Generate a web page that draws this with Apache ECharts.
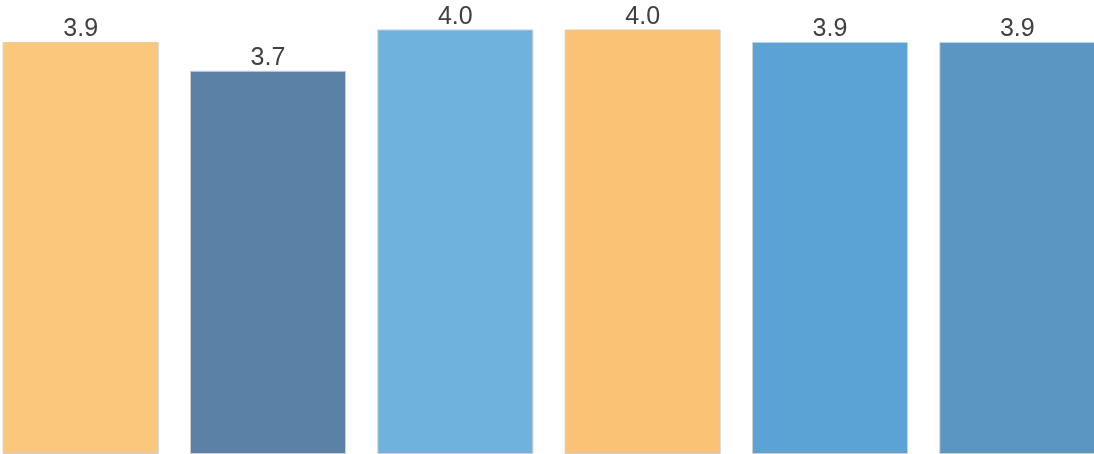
<!DOCTYPE html>
<html>
<head>
<meta charset="utf-8">
<script src="https://cdn.jsdelivr.net/npm/echarts@6/dist/echarts.min.js"></script>
<style>
html,body{margin:0;padding:0;background:#fff;overflow:hidden;width:1094px;height:454px;}
#chart{position:absolute;left:-13px;top:0;width:1124px;height:454px;}
</style>
</head>
<body>
<div id="chart"></div>
<script>
const categories = ['A', 'B', 'C', 'D', 'E', 'F'];
const values = [3.93, 3.655, 4.049, 4.049, 3.93, 3.93];
const barColors = ['#FAC87D', '#5C81A6', '#6EB2DD', '#F9C274', '#5BA3D4', '#5B96C2'];

const chart = echarts.init(document.getElementById('chart'), null, {renderer: 'canvas'});
chart.setOption({
  animation: false,
  backgroundColor: '#ffffff',
  grid: {left: 0, right: 0, top: 0, bottom: 0},
  xAxis: {
    type: 'category',
    data: categories,
    show: false
  },
  yAxis: {
    type: 'value',
    min: 0,
    max: 4.33,
    show: false
  },
  series: [{
    type: 'bar',
    barCategoryGap: '16.7%',
    data: values.map((v, i) => ({
      value: v,
      itemStyle: {color: barColors[i]}
    })),
    itemStyle: {borderColor: '#cfcfcf', borderWidth: 1},
    label: {
      show: true,
      position: 'top',
      distance: 0,
      fontFamily: 'Liberation Sans, Arial, sans-serif',
      fontSize: 25,
      color: '#404040',
      formatter: p => p.value.toFixed(1)
    }
  }]
});
</script>
</body>
</html>
